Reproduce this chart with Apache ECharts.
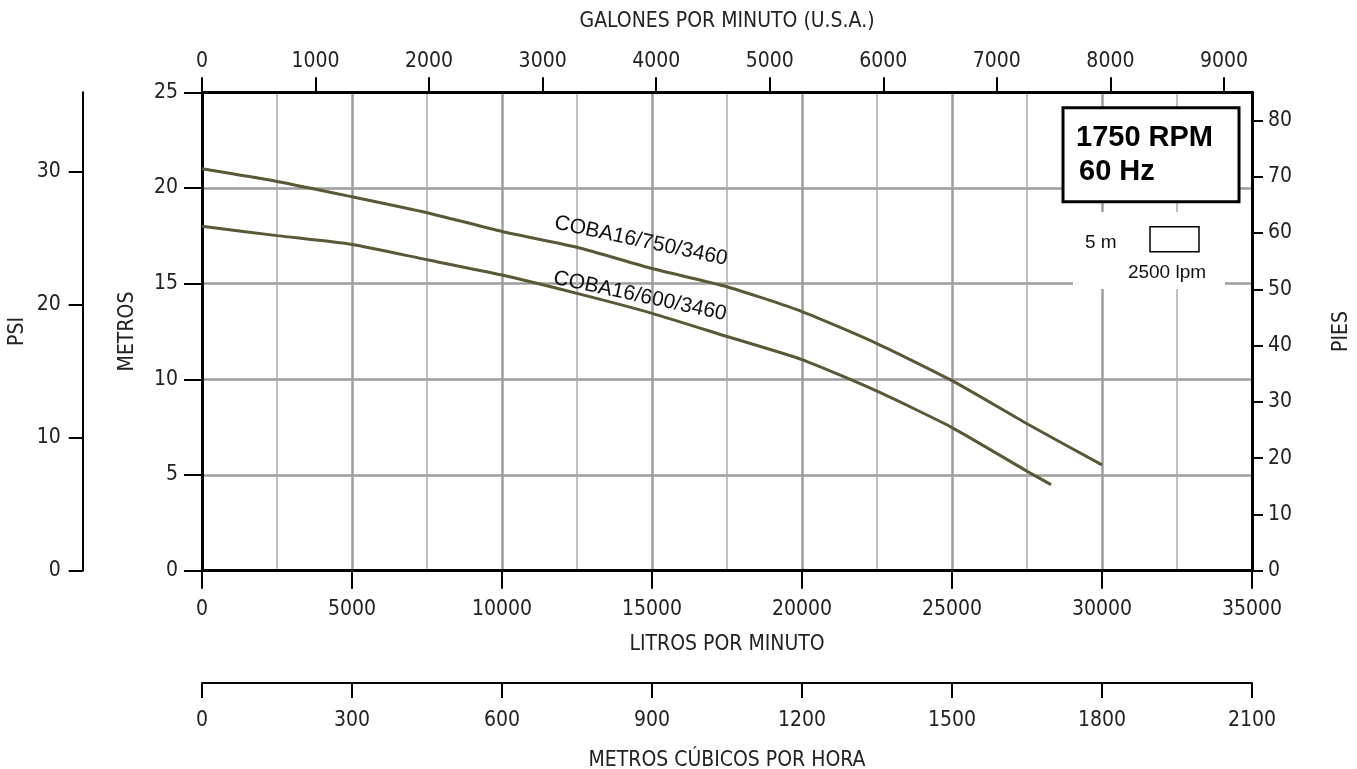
<!DOCTYPE html>
<html>
<head>
<meta charset="utf-8">
<script src="https://cdn.jsdelivr.net/npm/echarts@6/dist/echarts.min.js"></script>
<style>
  html, body { margin: 0; padding: 0; background: #fff; }
  #chart { width: 1357px; height: 769px; }
</style>
</head>
<body>
<div id="chart"></div>
<script>
// curve data: caudal (litros por minuto) and altura (metros)
const flow750 = [0, 2500, 5000, 7500, 10000, 12500, 15000, 17500, 20000, 22500, 25000, 27500, 30000];
const head750 = [21.0, 20.34, 19.54, 18.71, 17.73, 16.9, 15.79, 14.84, 13.54, 11.87, 9.93, 7.68, 5.53];
const flow600 = [0, 2500, 5000, 7500, 10000, 12500, 15000, 17500, 20000, 22500, 25000, 27500, 28300];
const head600 = [18.0, 17.51, 17.05, 16.25, 15.45, 14.49, 13.45, 12.24, 11.03, 9.38, 7.48, 5.2, 4.5];

// secondary axis ticks and extents
const gpmTicks = [0, 1000, 2000, 3000, 4000, 5000, 6000, 7000, 8000, 9000];
const psiTicks = [0, 10, 20, 30];
const ftTicks = [0, 10, 20, 30, 40, 50, 60, 70, 80];
const gpmMax = 9247;
const psiMax = 36;
const ftMax = 85;
const m3hMax = 2100;

const narrow = "'Liberation Sans Narrow', 'DejaVu Sans Condensed', sans-serif";
const arial = "'Liberation Sans', Arial, sans-serif";
const curveColor = "#5a5836";

const plain = function (v) { return String(v); };
const tickLabel = { color: "#222", fontSize: 21, fontFamily: narrow, formatter: plain };
const nameText = { color: "#222", fontSize: 21, fontFamily: narrow };

const chart = echarts.init(document.getElementById("chart"));

const option = {
  animation: false,
  grid: {
    left: 202,
    right: 105,
    top: 92.3,
    bottom: 198.3,
    outerBoundsMode: "none",
    show: false
  },
  xAxis: [
    {
      type: "value",
      position: "bottom",
      min: 0,
      max: 35000,
      interval: 5000,
      name: "LITROS POR MINUTO",
      nameLocation: "middle",
      nameGap: 63,
      nameMoveOverlap: false,
      nameTextStyle: nameText,
      axisLine: { show: true, onZero: false, lineStyle: { color: "#000", width: 3 } },
      axisTick: { show: true, inside: false, length: 18, lineStyle: { color: "#000", width: 2 } },
      axisLabel: Object.assign({ margin: 28 }, tickLabel),
      splitLine: { show: true, lineStyle: { color: "#9d9d9d", width: 2.5 } },
      minorTick: { show: false, splitNumber: 2 },
      minorSplitLine: { show: true, lineStyle: { color: "#aaaaaa", width: 1.5 } }
    },
    {
      type: "value",
      position: "top",
      min: 0,
      max: gpmMax,
      name: "GALONES POR MINUTO (U.S.A.)",
      nameLocation: "middle",
      nameGap: 60,
      nameMoveOverlap: false,
      nameTextStyle: nameText,
      axisLine: { show: true, onZero: false, lineStyle: { color: "#000", width: 3 } },
      axisTick: { show: true, length: 15, customValues: gpmTicks, lineStyle: { color: "#000", width: 2 } },
      axisLabel: Object.assign({ margin: 20, customValues: gpmTicks }, tickLabel),
      splitLine: { show: false }
    },
    {
      type: "value",
      position: "bottom",
      offset: 112.3,
      min: 0,
      max: m3hMax,
      interval: 300,
      name: "METROS CÚBICOS POR HORA",
      nameLocation: "middle",
      nameGap: 67,
      nameMoveOverlap: false,
      nameTextStyle: nameText,
      axisLine: { show: true, onZero: false, lineStyle: { color: "#000", width: 2 } },
      axisTick: { show: true, length: 15, lineStyle: { color: "#000", width: 2 } },
      axisLabel: Object.assign({ margin: 27 }, tickLabel),
      splitLine: { show: false }
    }
  ],
  yAxis: [
    {
      type: "value",
      position: "left",
      min: 0,
      max: 25,
      interval: 5,
      name: "METROS",
      nameLocation: "middle",
      nameGap: 64,
      nameMoveOverlap: false,
      nameTextStyle: nameText,
      axisLine: { show: true, onZero: false, lineStyle: { color: "#000", width: 3 } },
      axisTick: { show: true, length: 18, lineStyle: { color: "#000", width: 2 } },
      axisLabel: Object.assign({ margin: 24 }, tickLabel),
      splitLine: { show: true, lineStyle: { color: "#9d9d9d", width: 2.5 } }
    },
    {
      type: "value",
      position: "left",
      offset: 119.3,
      min: 0,
      max: psiMax,
      name: "PSI",
      nameLocation: "middle",
      nameGap: 55,
      nameMoveOverlap: false,
      nameTextStyle: nameText,
      axisLine: { show: true, onZero: false, lineStyle: { color: "#000", width: 2 } },
      axisTick: { show: true, length: 14, customValues: psiTicks, lineStyle: { color: "#000", width: 2 } },
      axisLabel: Object.assign({ margin: 22, customValues: psiTicks }, tickLabel),
      splitLine: { show: false }
    },
    {
      type: "value",
      position: "right",
      min: 0,
      max: ftMax,
      name: "PIES",
      nameLocation: "middle",
      nameGap: 79,
      nameMoveOverlap: false,
      nameTextStyle: nameText,
      axisLine: { show: true, onZero: false, lineStyle: { color: "#000", width: 3 } },
      axisTick: { show: true, length: 11, customValues: ftTicks, lineStyle: { color: "#000", width: 2 } },
      axisLabel: Object.assign({ margin: 16, customValues: ftTicks }, tickLabel),
      splitLine: { show: false }
    }
  ],
  series: [
    {
      name: "COBA16/750/3460",
      type: "line",
      xAxisIndex: 0,
      yAxisIndex: 0,
      smooth: 0.2,
      symbol: "none",
      lineStyle: { color: curveColor, width: 3 },
      data: flow750.map((q, i) => [q, head750[i]]),
      z: 5
    },
    {
      name: "COBA16/600/3460",
      type: "line",
      xAxisIndex: 0,
      yAxisIndex: 0,
      smooth: 0.2,
      symbol: "none",
      lineStyle: { color: curveColor, width: 3 },
      data: flow600.map((q, i) => [q, head600[i]]),
      z: 5
    }
  ]
};

chart.setOption(option);

// curve names, placed in data space next to the curves
const p750 = chart.convertToPixel({ xAxisIndex: 0, yAxisIndex: 0 }, [14633, 17.23]);
const p600 = chart.convertToPixel({ xAxisIndex: 0, yAxisIndex: 0 }, [14600, 14.35]);
const tilt = -12 * Math.PI / 180;

chart.setOption({
  graphic: [
    {
      type: "text", x: p750[0], y: p750[1], rotation: tilt, z: 10,
      style: { text: "COBA16/750/3460", font: "21px " + arial, fill: "#111", align: "center", verticalAlign: "middle" }
    },
    {
      type: "text", x: p600[0], y: p600[1], rotation: tilt, z: 10,
      style: { text: "COBA16/600/3460", font: "21px " + arial, fill: "#111", align: "center", verticalAlign: "middle" }
    },
    // speed box
    {
      type: "rect", z: 10,
      shape: { x: 1063, y: 107.7, width: 176, height: 94 },
      style: { fill: "#fff", stroke: "#000", lineWidth: 3 }
    },
    {
      type: "text", x: 1076, y: 138, z: 11,
      style: { text: "1750 RPM", font: "bold 29px " + arial, fill: "#000", verticalAlign: "middle" }
    },
    {
      type: "text", x: 1079, y: 172, z: 11,
      style: { text: "60 Hz", font: "bold 29px " + arial, fill: "#000", verticalAlign: "middle" }
    },
    // scale key
    {
      type: "rect", z: 10,
      shape: { x: 1073, y: 212, width: 152, height: 77 },
      style: { fill: "#fff", stroke: null }
    },
    {
      type: "rect", z: 11,
      shape: { x: 1150, y: 226.7, width: 49, height: 25 },
      style: { fill: "#fff", stroke: "#000", lineWidth: 1.5 }
    },
    {
      type: "text", x: 1085, y: 243, z: 11,
      style: { text: "5 m", font: "19px " + arial, fill: "#111", verticalAlign: "middle" }
    },
    {
      type: "text", x: 1167, y: 273, z: 11,
      style: { text: "2500 lpm", font: "19px " + arial, fill: "#111", align: "center", verticalAlign: "middle" }
    }
  ]
});

window.onresize = function () {
  chart.resize();
};
</script>
</body>
</html>
